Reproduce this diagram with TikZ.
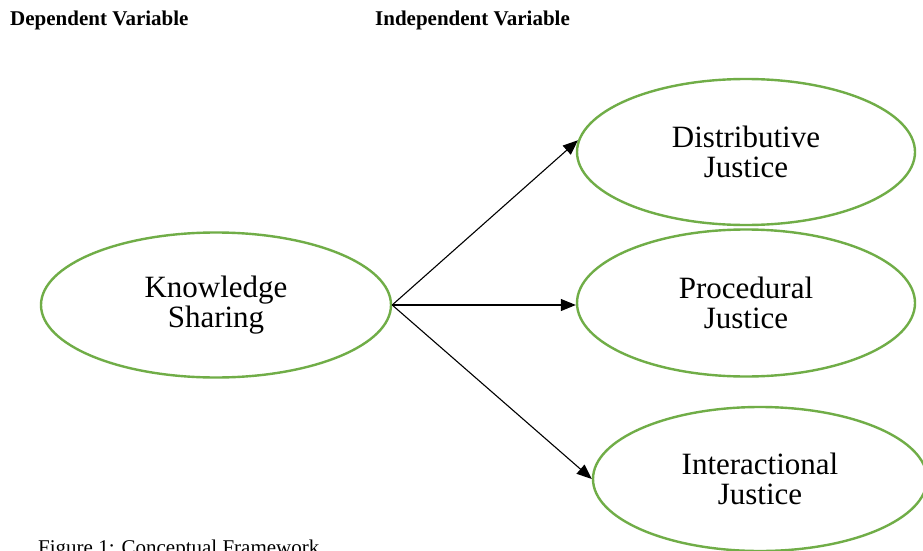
\documentclass[tikz,border=0pt]{standalone}
\usepackage{fontspec}
\setmainfont{Liberation Serif}[BoldFont={Liberation Serif Bold}]
\usetikzlibrary{shapes.geometric,arrows.meta}
\definecolor{ovalgreen}{HTML}{70AD47}
\tikzset{
  oval/.style={ellipse, draw=ovalgreen, line width=2.4pt, inner sep=0pt,
    align=center, font=\fontsize{31}{30}\selectfont},
  link/.style={draw=black, line width=1.1pt, -{Triangle[length=15pt,width=12pt]}},
  heading/.style={anchor=base west, inner sep=0pt, font=\fontsize{21}{24}\selectfont\bfseries},
  caption/.style={anchor=base west, inner sep=0pt, font=\fontsize{21}{24}\selectfont}
}
\begin{document}
\begin{tikzpicture}[x=1pt,y=-1pt]
\useasboundingbox (0,0) rectangle (923,551);
\clip (0,0) rectangle (923,551);
\fill[white] (0,0) rectangle (923,551);

\node[heading] (dep) at (10,26) {Dependent Variable};
\node[heading] (indep) at (375,26) {Independent Variable};

\node[oval, minimum width=350pt, minimum height=145pt] (ks) at (216,305) {Knowledge\\Sharing};
\node[oval, minimum width=338pt, minimum height=146pt] (dj) at (746,152) {Distributive\\Justice};
\node[oval, minimum width=338pt, minimum height=147pt] (pj) at (746,303) {Procedural\\Justice};
\node[oval, minimum width=334pt, minimum height=144pt] (ij) at (760,479) {Interactional\\Justice};

\draw[link] (ks.east) -- (dj.176);
\draw[link] (ks.east) -- (ks.east -| pj.west);
\draw[link] (ks.east) -- (ij.west);

\node[caption] (cap) at (38,554) {Figure 1: Conceptual Framework};
\end{tikzpicture}
\end{document}
